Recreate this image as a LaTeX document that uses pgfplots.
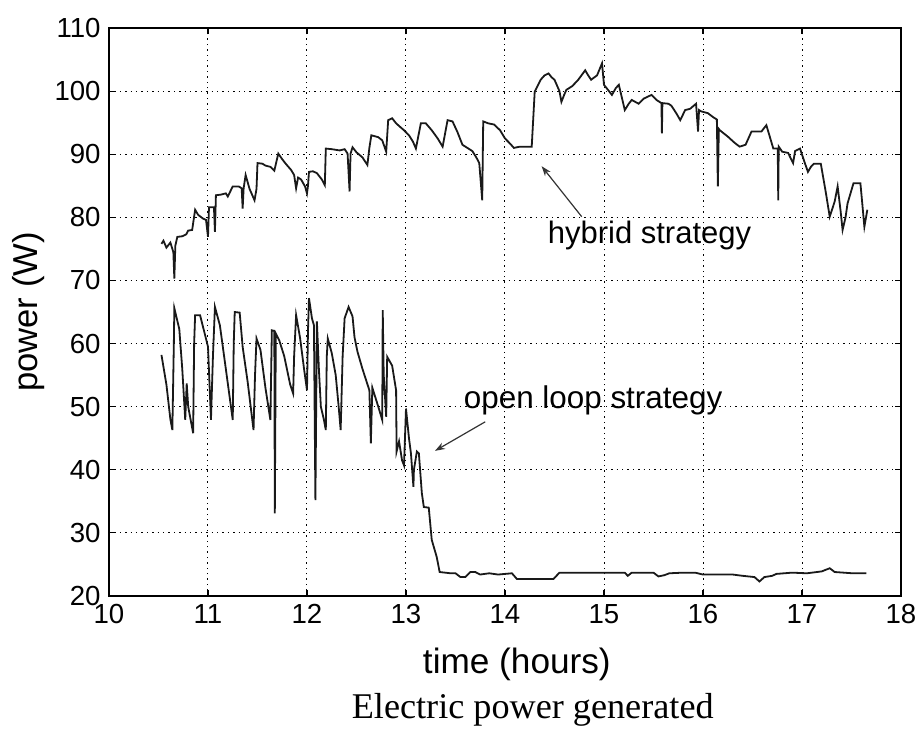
\documentclass[border=0pt]{standalone}
\usepackage{fontspec}
\setmainfont{Liberation Sans}
\newfontfamily\capfont{Liberation Serif}
\usepackage{pgfplots}
\pgfplotsset{compat=1.18}
\usetikzlibrary{arrows.meta}

\pgfplotstableread{
t P
10.53 75.8
10.55 76.3
10.58 75.2
10.62 76.0
10.65 74.5
10.66 70.3
10.67 75.5
10.69 76.9
10.74 77.0
10.78 77.3
10.80 77.9
10.84 78.0
10.87 81.2
10.90 80.4
10.95 79.8
10.98 79.6
11.00 76.9
11.01 81.6
11.06 81.6
11.07 77.7
11.08 83.5
11.13 83.6
11.18 83.8
11.20 83.3
11.25 84.9
11.31 84.9
11.34 84.6
11.35 81.4
11.36 84.6
11.38 86.7
11.42 84.5
11.47 82.7
11.49 84.5
11.50 88.6
11.55 88.5
11.58 88.2
11.63 88.0
11.67 87.4
11.71 90.1
11.75 89.2
11.79 88.4
11.84 87.5
11.87 86.7
11.89 84.6
11.91 86.3
11.94 86.0
11.98 84.9
12.00 83.8
12.01 85.0
12.02 87.2
12.06 87.3
12.10 87.0
12.15 86.0
12.18 85.1
12.19 90.9
12.25 90.8
12.33 90.6
12.38 90.8
12.41 90.1
12.43 84.1
12.44 90.1
12.46 91.1
12.50 90.3
12.56 89.5
12.61 88.3
12.63 91.0
12.65 93.0
12.72 92.7
12.76 92.2
12.80 90.4
12.82 95.4
12.86 95.7
12.90 94.9
12.95 94.2
12.98 93.8
13.03 93.0
13.07 92.0
13.10 90.9
13.15 94.9
13.20 94.9
13.26 93.8
13.32 92.5
13.37 91.2
13.42 95.4
13.47 95.2
13.52 93.5
13.57 91.5
13.62 91.0
13.67 90.5
13.71 89.5
13.74 88.6
13.77 82.7
13.78 95.2
13.83 94.9
13.89 94.7
13.95 93.8
14.00 92.5
14.05 91.7
14.09 91.0
14.15 91.2
14.27 91.2
14.30 99.9
14.36 101.8
14.40 102.5
14.44 102.8
14.47 102.2
14.50 101.8
14.55 100.0
14.57 98.3
14.60 99.5
14.62 100.2
14.68 100.8
14.74 101.8
14.81 103.3
14.84 102.5
14.87 101.8
14.93 102.5
14.98 104.4
15.00 101.0
15.04 100.2
15.08 99.4
15.12 100.5
15.15 101.0
15.18 99.0
15.21 97.0
15.25 98.0
15.28 98.6
15.35 98.0
15.40 98.8
15.48 99.4
15.53 98.6
15.58 98.1
15.585 93.3
15.59 98.1
15.65 98.0
15.68 97.7
15.73 96.5
15.77 95.4
15.82 97.0
15.87 97.2
15.93 98.0
15.95 93.6
15.96 97.0
15.98 96.8
16.05 96.5
16.10 95.9
16.14 95.5
16.15 84.9
16.16 94.0
16.17 93.8
16.25 92.8
16.32 91.8
16.37 91.2
16.43 91.5
16.49 93.6
16.59 93.6
16.64 94.6
16.68 92.5
16.71 90.9
16.755 90.9
16.76 82.7
16.765 91.2
16.80 90.4
16.86 90.2
16.91 88.6
16.93 90.5
16.98 90.9
17.02 89.0
17.06 87.2
17.09 88.0
17.12 88.5
17.19 88.5
17.24 84.0
17.28 80.1
17.33 82.5
17.36 84.9
17.39 81.0
17.41 78.0
17.44 80.0
17.46 82.2
17.52 85.4
17.59 85.4
17.61 82.0
17.63 78.5
17.66 81.2
}\hybrid

\pgfplotstableread{
t P
10.53 58.2
10.58 53.5
10.62 48.0
10.64 46.3
10.655 60.0
10.66 65.6
10.71 62.3
10.74 56.0
10.77 47.9
10.785 53.7
10.80 50.0
10.85 45.8
10.86 60.0
10.87 64.5
10.92 64.5
10.96 62.0
11.00 59.5
11.03 47.9
11.05 58.0
11.07 65.8
11.12 62.9
11.18 56.0
11.25 47.9
11.26 60.0
11.27 65.0
11.32 64.9
11.35 59.5
11.40 54.0
11.46 46.3
11.475 55.0
11.49 60.8
11.53 59.0
11.58 53.0
11.63 47.9
11.645 62.1
11.67 62.0
11.675 33.1
11.685 61.6
11.72 60.5
11.77 58.0
11.83 53.5
11.86 52.1
11.87 58.0
11.89 64.5
11.93 60.9
11.97 56.0
12.00 52.6
12.01 62.0
12.02 67.2
12.05 64.0
12.07 62.9
12.085 35.2
12.10 63.5
12.12 56.0
12.14 50.0
12.17 48.0
12.19 46.3
12.20 58.0
12.21 60.8
12.25 58.5
12.29 55.0
12.32 50.0
12.34 46.3
12.36 58.0
12.38 64.0
12.42 65.8
12.46 64.3
12.48 61.0
12.51 58.7
12.56 56.0
12.63 52.6
12.645 44.2
12.66 53.0
12.72 50.0
12.76 47.9
12.765 65.3
12.775 55.0
12.80 48.4
12.81 57.9
12.86 56.5
12.90 52.6
12.905 42.9
12.93 44.5
12.96 41.5
12.98 40.7
13.00 49.7
13.03 45.0
13.05 42.6
13.075 37.3
13.08 40.0
13.11 42.9
13.13 42.6
13.16 36.3
13.18 34.1
13.23 34.0
13.26 28.9
13.31 26.2
13.34 23.8
13.45 23.6
13.50 23.6
13.55 23.0
13.60 23.0
13.65 23.8
13.70 23.8
13.75 23.4
13.84 23.6
13.93 23.4
14.07 23.6
14.12 22.7
14.24 22.7
14.49 22.7
14.55 23.7
14.59 23.7
14.80 23.7
15.21 23.7
15.24 23.2
15.28 23.7
15.50 23.7
15.55 23.1
15.61 23.3
15.66 23.6
15.80 23.7
15.92 23.7
16.00 23.4
16.22 23.4
16.30 23.4
16.40 23.2
16.52 23.0
16.57 22.3
16.62 23.0
16.70 23.2
16.74 23.5
16.90 23.7
17.05 23.6
17.20 23.9
17.28 24.4
17.33 23.8
17.51 23.6
17.60 23.6
17.65 23.6
}\openloop

\begin{document}
\begin{tikzpicture}
\begin{axis}[
  scale only axis, width=396pt, height=284pt,
  xmin=10, xmax=18, ymin=20, ymax=110,
  xtick={10,11,...,18}, ytick={20,30,...,110},
  grid=major,
  major grid style={black, line width=0.5pt, dash pattern=on 0.7pt off 2pt},
  tick align=inside, major tick length=3pt,
  axis line style={black, line width=0.8pt},
  tick style={black, line width=0.6pt},
  /pgf/number format/assume math mode=true,
  ticklabel style={font=\fontsize{13.8}{16}\selectfont},
  yticklabel style={inner xsep=4pt},
  xticklabel style={inner ysep=4pt},
  clip=false,
]
\addplot[black!90, line width=0.9pt] table[x=t, y=P] {\hybrid};
\addplot[black!90, line width=0.9pt] table[x=t, y=P] {\openloop};

\draw[black!80, line width=0.6pt, -{Stealth[length=5pt, width=3.5pt]}] (axis cs:14.775,80.1) -- (axis cs:14.37,88.1);
\draw[black!80, line width=0.6pt, -{Stealth[length=5pt, width=3.5pt]}] (axis cs:13.80,47.6) -- (axis cs:13.293,43.0);
\node[font=\fontsize{15.5}{18}\selectfont, inner sep=0pt] at (axis cs:15.46,77.2) {hybrid strategy};
\node[font=\fontsize{15.7}{18}\selectfont, inner sep=0pt] at (axis cs:14.89,51.0) {open loop strategy};

\node[font=\fontsize{17.3}{20}\selectfont, inner sep=0pt, rotate=90] at (axis cs:9.19,65.0) {power (W)};
\node[font=\fontsize{17.6}{20}\selectfont, inner sep=0pt] at (axis cs:14.12,9.2) {time (hours)};
\node[font=\capfont\fontsize{18.1}{21}\selectfont, inner sep=0pt] at (axis cs:14.28,1.9) {Electric power generated};
\end{axis}
\pgfresetboundingbox
\path[use as bounding box] ([shift={(-54.5pt,-66.5pt)}]current axis.south west) rectangle ([shift={(406pt,298pt)}]current axis.south west);
\end{tikzpicture}
\end{document}
